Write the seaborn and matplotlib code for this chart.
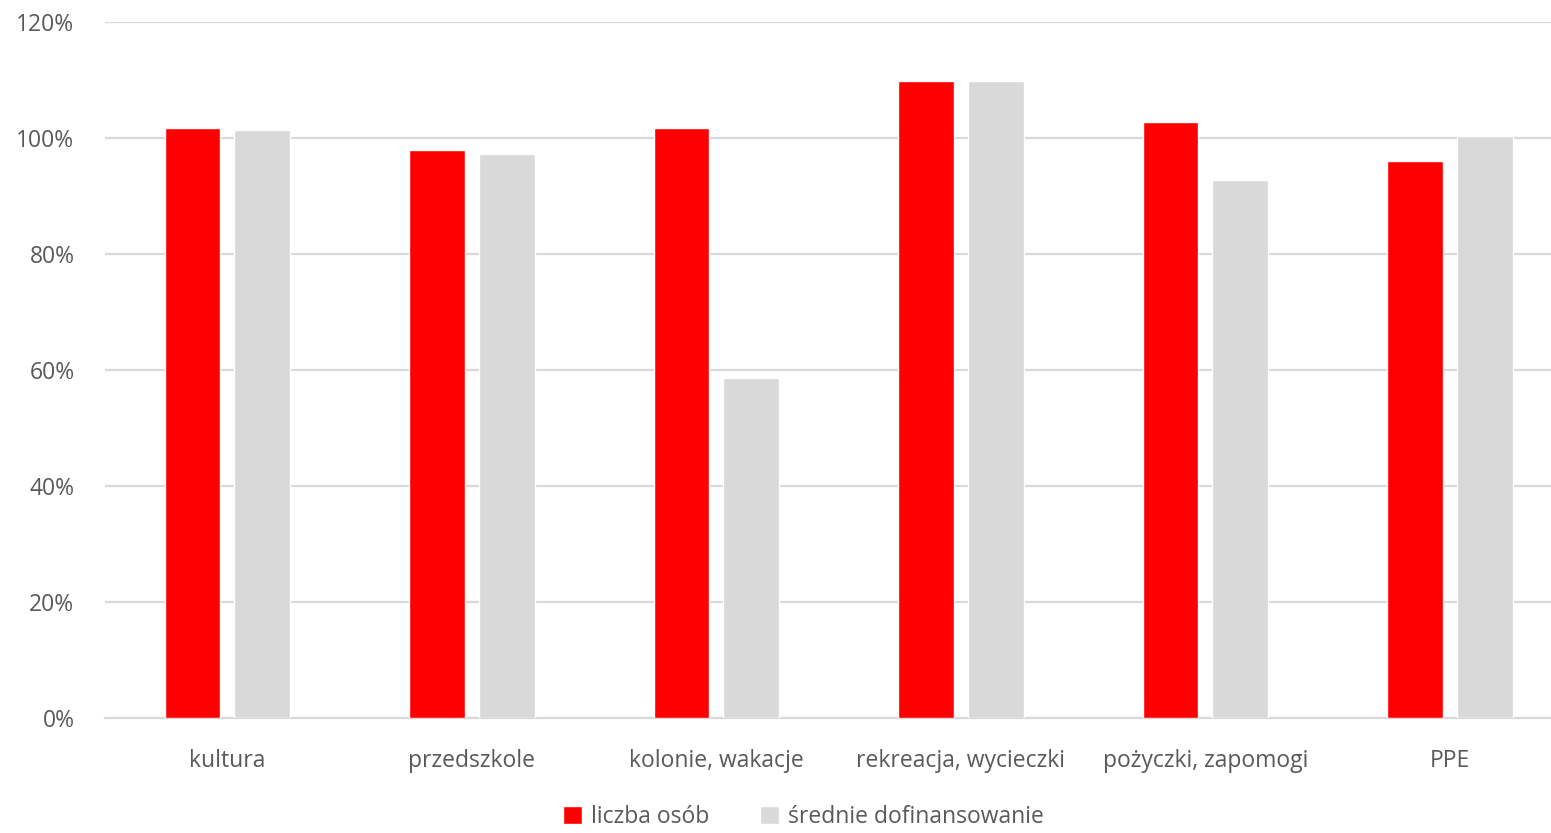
import pandas as pd
import matplotlib.pyplot as plt
import seaborn as sns
from matplotlib.ticker import PercentFormatter

# Dane (w %)
kategorie = ["kultura", "przedszkole", "kolonie, wakacje",
             "rekreacja, wycieczki", "pożyczki, zapomogi", "PPE"]
liczba_osob = [101.7, 98.0, 101.7, 109.8, 102.8, 96.0]
srednie_dofinansowanie = [101.3, 97.3, 58.7, 109.8, 92.7, 100.4]
serie = ["liczba osób", "średnie dofinansowanie"]

df = pd.DataFrame({
    "kategoria": kategorie * 2,
    "seria": [serie[0]] * len(kategorie) + [serie[1]] * len(kategorie),
    "wartosc": liczba_osob + srednie_dofinansowanie,
})

sns.set_theme(style="white")
plt.rcParams["font.family"] = ["Open Sans", "DejaVu Sans"]

fig = plt.figure(figsize=(15.51, 8.33), dpi=100)
# obszar wykresu wychodzi poza prawą krawędź (jak w oryginale)
ax = fig.add_axes([0.0677, 0.138, 0.946, 0.8356])

sns.barplot(data=df, x="kategoria", y="wartosc", hue="seria",
            palette=["#ff0000", "#d9d9d9"], width=0.57, gap=0.2,
            ax=ax, zorder=3, saturation=1)

ax.set_xlim(-0.5, 5.5)
ax.set_ylim(0, 120)
ax.set_yticks(range(0, 121, 20))
ax.yaxis.set_major_formatter(PercentFormatter(decimals=0))
ax.grid(axis="y", color="#d9d9d9", linewidth=1.6, zorder=0)
ax.set_axisbelow(True)
for s in ["top", "right", "left"]:
    ax.spines[s].set_visible(False)
ax.spines["bottom"].set_color("#d9d9d9")
ax.spines["bottom"].set_linewidth(1.6)
ax.set_xlabel("")
ax.set_ylabel("")
ax.tick_params(axis="both", colors="#595959", labelsize=16.5, length=0)
ax.tick_params(axis="x", pad=22)
ax.tick_params(axis="y", pad=22)

ax.legend(loc="center", bbox_to_anchor=(0.518, 0.019),
          bbox_transform=fig.transFigure, ncol=2,
          frameon=False, fontsize=16.5, labelcolor="#595959",
          handlelength=0.85, handleheight=0.85, handletextpad=0.4,
          columnspacing=2.2, borderpad=0.2)

plt.savefig("out.png", dpi=100)
